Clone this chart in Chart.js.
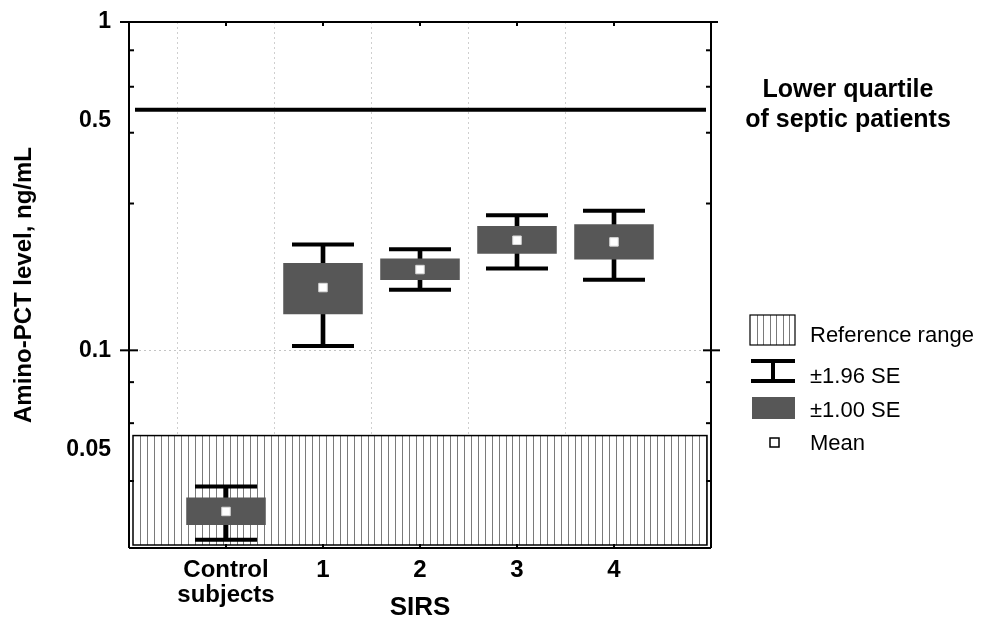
<!DOCTYPE html>
<html>
<head>
<meta charset="utf-8">
<script src="https://cdn.jsdelivr.net/npm/chart.js@4.4.1/dist/chart.umd.min.js"></script>
<style>
  html, body { margin: 0; padding: 0; background: #fff; }
  #wrap { width: 984px; height: 624px; }
</style>
</head>
<body>
<div id="wrap"><canvas id="chart" width="984" height="624"></canvas></div>
<script>
// categories (empty slots at both ends give the margin inside the frame)
const categories = ["", ["Control", "subjects"], "1", "2", "3", "4", ""];

// values, ng/mL
const ci196Low  = [null, 0.0265, 0.103, 0.153, 0.1775, 0.164, null];
const ci196High = [null, 0.0385, 0.210, 0.203, 0.258, 0.266, null];
const se1Low    = [null, 0.0294, 0.1287, 0.1637, 0.197, 0.189, null];
const se1High   = [null, 0.0356, 0.1845, 0.1904, 0.2393, 0.2422, null];
const means     = [null, 0.0323, 0.1553, 0.1762, 0.2164, 0.2139, null];

const yLabelTicks = [1, 0.5, 0.1, 0.05];
const yLabels = ["1", "0.5", "0.1", "0.05"];
const yMinorTicks = [0.82, 0.635, 0.46, 0.28, 0.08, 0.06, 0.04];
const yCrossTicks = [0.1];
const yMin = 0.025;
const yMax = 1;

const lowerQuartile = 0.54;
const referenceRangeTop = 0.055;

const FONT = "'Liberation Sans', Arial, Helvetica, sans-serif";
const BOX_COLOR = "#575757";

Chart.defaults.font.family = FONT;
Chart.defaults.color = "#000";

function pairs(lo, hi) {
  return lo.map((v, i) => (v == null ? null : [v, hi[i]]));
}

function hatch(ctx, x0, y0, x1, y1, step) {
  ctx.save();
  ctx.beginPath();
  ctx.rect(x0, y0, x1 - x0, y1 - y0);
  ctx.clip();
  ctx.strokeStyle = "#7a7a7a";
  ctx.lineWidth = 1;
  ctx.beginPath();
  for (let x = x0 + step; x < x1 - 1; x += step) {
    const px = Math.round(x) + 0.5;
    ctx.moveTo(px, y0);
    ctx.lineTo(px, y1);
  }
  ctx.stroke();
  ctx.restore();
}

function line(ctx, x0, y0, x1, y1) {
  ctx.beginPath();
  ctx.moveTo(x0, y0);
  ctx.lineTo(x1, y1);
  ctx.stroke();
}

// hatched reference band + lower quartile line, behind the boxes
const backdrop = {
  id: "backdrop",
  beforeDatasetsDraw(chart) {
    const { ctx, chartArea: a, scales: { y } } = chart;
    const top = y.getPixelForValue(referenceRangeTop);
    const x0 = a.left + 4, x1 = a.right - 4, y1 = a.bottom - 3;
    ctx.save();
    ctx.fillStyle = "#fff";
    ctx.fillRect(x0, top, x1 - x0, y1 - top);
    hatch(ctx, x0, top, x1, y1, 6.9);
    ctx.strokeStyle = "#000";
    ctx.lineWidth = 1.5;
    ctx.strokeRect(x0, top, x1 - x0, y1 - top);

    const q = y.getPixelForValue(lowerQuartile);
    ctx.lineWidth = 4;
    line(ctx, a.left + 6, q, a.right - 5, q);
    ctx.restore();
  },
};

// frame, tick marks, legend and note
const frame = {
  id: "frame",
  afterDraw(chart) {
    const { ctx, chartArea: a, scales: { x, y } } = chart;
    const L = a.left, R = a.right, T = a.top, B = a.bottom;
    ctx.save();
    ctx.strokeStyle = "#000";
    ctx.lineWidth = 2;
    line(ctx, L, T, L, B);
    line(ctx, R, T, R, B);
    line(ctx, L - 9, T, R + 7, T);
    line(ctx, L, B, R, B);

    y.ticks.forEach((t) => {
      const py = y.getPixelForValue(t.value);
      if (yMinorTicks.includes(t.value)) {
        line(ctx, L, py, L + 5, py);
        line(ctx, R - 5, py, R, py);
      } else if (yCrossTicks.includes(t.value)) {
        line(ctx, L - 9, py, L + 9, py);
        line(ctx, R - 8, py, R + 9, py);
      }
    });
    for (let i = 1; i < categories.length - 1; i++) {
      const px = x.getPixelForValue(i);
      line(ctx, px, B, px, B - 4);
      line(ctx, px, T, px, T + 4);
    }

    // note at the quartile line
    ctx.fillStyle = "#000";
    ctx.textAlign = "center";
    ctx.textBaseline = "alphabetic";
    ctx.font = "bold 25px " + FONT;
    ctx.fillText("Lower quartile", 848, 97);
    ctx.fillText("of septic patients", 848, 127);

    // legend
    ctx.textAlign = "left";
    ctx.font = "22px " + FONT;
    ctx.fillStyle = "#fff";
    ctx.fillRect(750, 315, 45, 30);
    hatch(ctx, 750, 315, 795, 345, 6.5);
    ctx.lineWidth = 1.2;
    ctx.strokeRect(750, 315, 45, 30);
    ctx.fillStyle = "#000";
    ctx.fillText("Reference range", 810, 342);

    ctx.lineWidth = 4;
    line(ctx, 751, 361, 795, 361);
    line(ctx, 751, 381, 795, 381);
    line(ctx, 773, 361, 773, 381);
    ctx.fillText("\u00b11.96 SE", 810, 383);

    ctx.fillStyle = BOX_COLOR;
    ctx.fillRect(752, 397, 43, 22);
    ctx.fillStyle = "#000";
    ctx.fillText("\u00b11.00 SE", 810, 417);

    ctx.lineWidth = 1.5;
    ctx.fillStyle = "#fff";
    ctx.fillRect(770, 438, 9, 9);
    ctx.strokeRect(770, 438, 9, 9);
    ctx.fillStyle = "#000";
    ctx.fillText("Mean", 810, 450);
    ctx.restore();
  },
};

new Chart(document.getElementById("chart"), {
  type: "bar",
  data: {
    labels: categories,
    datasets: [
      {
        label: "stem",
        data: pairs(ci196Low, ci196High),
        backgroundColor: "#000",
        barThickness: 4,
        grouped: false,
        order: 4,
      },
      {
        label: "\u00b11.00 SE",
        data: pairs(se1Low, se1High),
        backgroundColor: BOX_COLOR,
        barPercentage: 0.82,
        categoryPercentage: 1,
        grouped: false,
        order: 3,
      },
      {
        type: "line",
        label: "cap high",
        data: ci196High,
        showLine: false,
        pointStyle: "line",
        pointRadius: 31,
        pointBorderWidth: 4,
        pointBorderColor: "#000",
        order: 2,
      },
      {
        type: "line",
        label: "cap low",
        data: ci196Low,
        showLine: false,
        pointStyle: "line",
        pointRadius: 31,
        pointBorderWidth: 4,
        pointBorderColor: "#000",
        order: 2,
      },
      {
        type: "line",
        label: "Mean",
        data: means,
        showLine: false,
        pointStyle: "rect",
        pointRadius: 6,
        pointBackgroundColor: "#fff",
        pointBorderColor: "#d8d8d8",
        pointBorderWidth: 1,
        order: 1,
      },
    ],
  },
  options: {
    responsive: false,
    animation: false,
    events: [],
    layout: { autoPadding: false, padding: { top: 22, right: 273, left: 0, bottom: 0 } },
    plugins: { legend: { display: false }, tooltip: { enabled: false } },
    scales: {
      x: {
        type: "category",
        offset: false,
        border: { display: false, dash: [2, 3] },
        grid: {
          drawTicks: false,
          color: (c) => (c.index > 0 && c.index < categories.length - 1 ? "#cfcfcf" : "transparent"),
        },
        ticks: {
          autoSkip: false,
          maxRotation: 0,
          padding: 10,
          font: { size: 24, weight: "bold", lineHeight: 1.05 },
        },
        title: {
          display: true,
          text: "SIRS",
          font: { size: 26, weight: "bold" },
          padding: { top: 0, bottom: 1 },
        },
        afterFit: (s) => {
          s.height = 76;
          s.paddingLeft = 0;
          s.paddingRight = 0;
        },
      },
      y: {
        type: "logarithmic",
        min: yMin,
        max: yMax,
        border: { display: false, dash: [2, 3] },
        grid: {
          drawTicks: false,
          color: (c) => (c.tick && c.tick.value === 0.1 ? "#c4c4c4" : "transparent"),
        },
        afterBuildTicks: (s) => {
          s.ticks = yLabelTicks.concat(yMinorTicks)
            .sort((p, q) => p - q)
            .map((v) => ({ value: v }));
        },
        ticks: {
          autoSkip: false,
          padding: 18,
          font: { size: 23, weight: "bold" },
          callback: (v) => {
            const i = yLabelTicks.indexOf(v);
            return i >= 0 ? yLabels[i] : "";
          },
        },
        title: {
          display: true,
          text: "Amino-PCT level, ng/mL",
          font: { size: 24, weight: "bold" },
          padding: { top: 10, bottom: 0 },
        },
        afterFit: (s) => {
          s.width = 129;
          s.paddingTop = 0;
          s.paddingBottom = 0;
        },
      },
    },
  },
  plugins: [backdrop, frame],
});
</script>
</body>
</html>
